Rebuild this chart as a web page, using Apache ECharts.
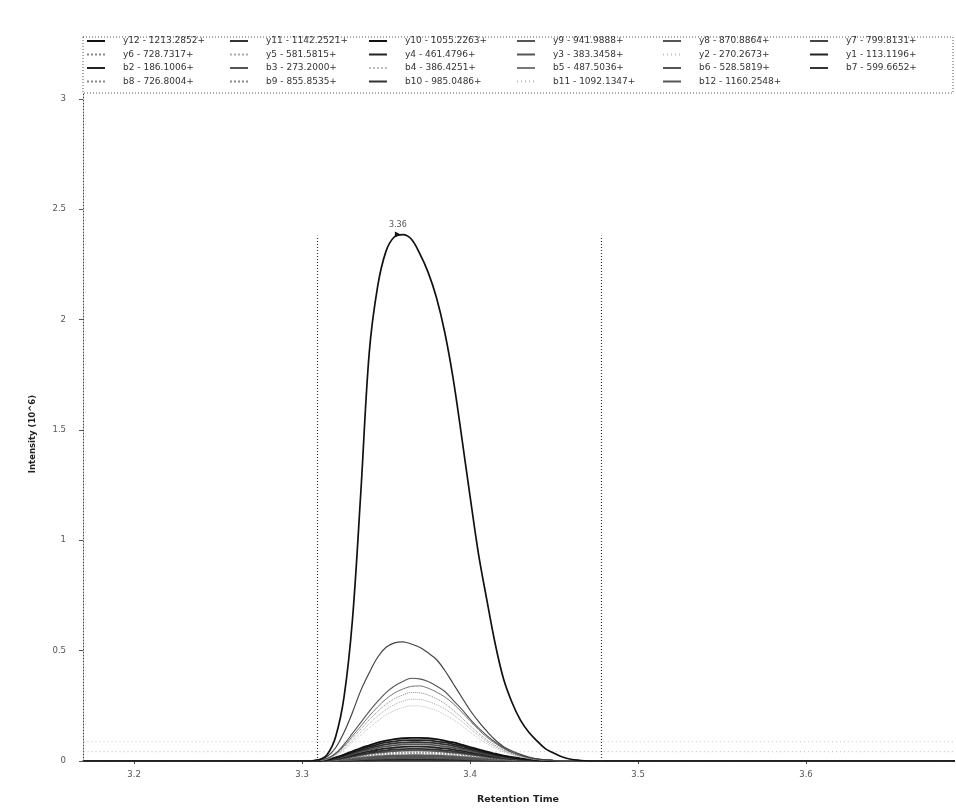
<!DOCTYPE html>
<html>
<head>
<meta charset="utf-8">
<script src="https://cdn.jsdelivr.net/npm/echarts@6/dist/echarts.min.js"></script>
<style>html,body{margin:0;padding:0;background:#fff}#c{width:956px;height:810px}</style>
</head>
<body>
<div id="c"></div>
<script>
// ---- data ----
const times = [3.17, 3.305, 3.31, 3.315, 3.32, 3.325, 3.33, 3.335, 3.34, 3.345, 3.35, 3.355, 3.36, 3.365, 3.37, 3.375, 3.38, 3.385, 3.39, 3.395, 3.4, 3.405, 3.41, 3.415, 3.42, 3.425, 3.43, 3.435, 3.44, 3.445, 3.45, 3.455, 3.46, 3.465, 3.47, 3.475, 3.48, 3.69];
const flatTimes = [3.17, 3.69];
const xTicks = [3.2, 3.3, 3.4, 3.5, 3.6];
const yTicks = [0, 0.5, 1, 1.5, 2, 2.5, 3];
const boundaryTimes = [3.309, 3.478];
const boundaryHeight = 2.38;

const y10 = [0, 0,.005,.03,.11,.29,.64,1.22,1.85,2.15,2.31, 2.375,2.385,2.365,2.30,2.215,2.10,1.94,1.73,1.47,1.20, .94,.73,.53,.37,.265,.185,.13,.09,.055,.035, .018,.008,.003,0,0,0, 0];
const y7  = [0, 0,.005,.02,.06,.13,.22,.32,.40,.47,.515, .535,.54,.53,.515,.49,.46,.41,.35,.29,.23, .18,.135,.095,.065,.045,.03,.018,.01,.005,.002, 0,0,0,0,0,0, 0];
const y9  = [0, 0,.003,.012,.035,.075,.125,.175,.225,.27,.31, .34,.36,.375,.372,.36,.34,.315,.275,.235,.19, .15,.115,.085,.06,.04,.026,.016,.009,.004,.002, .001,0,0,0,0,0, 0];
const b5  = [0, 0,.003,.011,.032,.068,.113,.158,.204,.245,.281, .308,.326,.338,.34,.33,.312,.29,.26,.222,.182, .142,.108,.08,.056,.038,.025,.015,.008,.004,.002, 0,0,0,0,0,0, 0];
const y6  = [0, 0,.002,.01,.03,.062,.104,.145,.187,.224,.257, .282,.299,.31,.309,.299,.282,.26,.23,.196,.16, .126,.096,.071,.05,.033,.022,.013,.007,.003,.002, 0,0,0,0,0,0, 0];
const y5  = [0, 0,.002,.009,.027,.056,.094,.131,.169,.203,.233, .256,.271,.28,.279,.27,.255,.236,.21,.18,.147, .116,.088,.065,.046,.031,.02,.012,.007,.003,.001, 0,0,0,0,0,0, 0];
const b4  = [0, 0,.002,.008,.024,.05,.084,.117,.151,.181,.208, .228,.242,.25,.249,.241,.228,.21,.187,.16,.131, .103,.079,.058,.041,.028,.018,.011,.006,.003,.001, 0,0,0,0,0,0, 0];
const y12 = [0, 0,.002,.006,.016,.029,.044,.059,.071,.083,.092, .099,.103,.105,.105,.103,.099,.092,.084,.074,.063, .053,.042,.033,.024,.017,.012,.007,.004,.002,.001, 0,0,0,0,0,0, 0];
const b2  = [0, 0,.002,.006,.014,.027,.04,.053,.065,.075,.084, .089,.093,.095,.095,.093,.089,.084,.076,.067,.057, .048,.038,.029,.022,.015,.01,.007,.004,.002,.001, 0,0,0,0,0,0, 0];
const y11 = [0, 0,.002,.005,.013,.024,.036,.048,.058,.067,.075, .08,.083,.085,.085,.083,.08,.075,.068,.06,.051, .043,.034,.026,.02,.014,.009,.006,.003,.002,.001, 0,0,0,0,0,0, 0];
const b3  = [0, 0,.002,.005,.011,.021,.032,.042,.051,.059,.066, .071,.074,.075,.075,.074,.071,.066,.06,.053,.045, .038,.03,.023,.017,.012,.008,.005,.003,.002,.001, 0,0,0,0,0,0, 0];
const y4  = [0, 0,.001,.004,.01,.018,.027,.036,.044,.051,.057, .061,.064,.065,.065,.064,.061,.057,.052,.046,.039, .033,.026,.02,.015,.01,.007,.005,.003,.001,.001, 0,0,0,0,0,0, 0];
const b10 = [0, 0,.001,.003,.008,.015,.023,.031,.037,.043,.048, .052,.054,.055,.055,.054,.052,.048,.044,.039,.033, .028,.022,.017,.013,.009,.006,.004,.002,.001,.001, 0,0,0,0,0,0, 0];
const y3  = [0, 0,.001,.003,.007,.013,.02,.027,.033,.038,.042, .045,.047,.048,.048,.047,.045,.042,.038,.034,.029, .024,.019,.015,.011,.008,.005,.003,.002,.001,0, 0,0,0,0,0,0, 0];
const b8  = [0, 0,.001,.002,.006,.011,.017,.022,.027,.032,.035, .038,.039,.04,.04,.039,.038,.035,.032,.028,.024, .02,.016,.012,.009,.006,.004,.003,.002,.001,0, 0,0,0,0,0,0, 0];
const b9  = [0, 0,.001,.002,.005,.009,.014,.018,.022,.026,.029, .031,.032,.033,.033,.032,.031,.029,.026,.023,.02, .017,.013,.01,.008,.005,.004,.002,.001,.001,0, 0,0,0,0,0,0, 0];
const y8  = [0, 0,.001,.002,.004,.007,.011,.015,.018,.021,.023, .024,.025,.026,.026,.025,.024,.023,.021,.018,.016, .013,.01,.008,.006,.004,.003,.002,.001,.001,0, 0,0,0,0,0,0, 0];
const b6  = [0, 0,0,.001,.003,.006,.008,.011,.014,.016,.018, .019,.02,.02,.02,.02,.019,.018,.016,.014,.012, .01,.008,.006,.005,.003,.002,.001,.001,0,0, 0,0,0,0,0,0, 0];
const b12 = [0, 0,0,.001,.002,.004,.006,.008,.01,.011,.012, .013,.014,.014,.014,.014,.013,.012,.011,.01,.008, .007,.006,.004,.003,.002,.002,.001,.001,0,0, 0,0,0,0,0,0, 0];
const y1  = [0, 0,0,.001,.001,.003,.004,.005,.006,.007,.008, .008,.009,.009,.009,.009,.008,.008,.007,.006,.005, .005,.004,.003,.002,.001,.001,.001,0,0,0, 0,0,0,0,0,0, 0];
const b7  = [0, 0,0,0,.001,.001,.002,.003,.003,.004,.004, .005,.005,.005,.005,.005,.005,.004,.004,.004,.003, .003,.002,.002,.001,.001,.001,0,0,0,0, 0,0,0,0,0,0, 0];
const y2  = [0.087, 0.087];
const b11 = [0.042, 0.042];

const names = {
  y12:'y12 - 1213.2852+', y11:'y11 - 1142.2521+', y10:'y10 - 1055.2263+', y9:'y9 - 941.9888+', y8:'y8 - 870.8864+', y7:'y7 - 799.8131+',
  y6:'y6 - 728.7317+', y5:'y5 - 581.5815+', y4:'y4 - 461.4796+', y3:'y3 - 383.3458+', y2:'y2 - 270.2673+', y1:'y1 - 113.1196+',
  b2:'b2 - 186.1006+', b3:'b3 - 273.2000+', b4:'b4 - 386.4251+', b5:'b5 - 487.5036+', b6:'b6 - 528.5819+', b7:'b7 - 599.6652+',
  b8:'b8 - 726.8004+', b9:'b9 - 855.8535+', b10:'b10 - 985.0486+', b11:'b11 - 1092.1347+', b12:'b12 - 1160.2548+'
};
const legendColumns = [
  ['y12','y6','b2','b8'],
  ['y11','y5','b3','b9'],
  ['y10','y4','b4','b10'],
  ['y9','y3','b5','b11'],
  ['y8','y2','b6','b12'],
  ['y7','y1','b7']
];

// ---- styles ----
const legendLeft = [86, 229, 368, 516, 662, 809];
const seriesDefs = [
  {k:'y2',  v:y2,  t:flatTimes, c:'#c0c0c0', w:1, d:[1,3]},
  {k:'b11', v:b11, t:flatTimes, c:'#b5b5b5', w:1, d:[1,3]},
  {k:'b7',  v:b7,  c:'#333', w:2},
  {k:'y1',  v:y1,  c:'#222', w:2},
  {k:'b12', v:b12, c:'#555', w:2},
  {k:'b6',  v:b6,  c:'#555', w:2},
  {k:'y8',  v:y8,  c:'#555', w:2},
  {k:'b9',  v:b9,  c:'#888', w:1.5, d:'dotted'},
  {k:'b8',  v:b8,  c:'#888', w:1.5, d:'dotted'},
  {k:'y3',  v:y3,  c:'#555', w:1.8},
  {k:'b10', v:b10, c:'#333', w:1.8},
  {k:'y4',  v:y4,  c:'#222', w:1.8},
  {k:'b3',  v:b3,  c:'#555', w:1.8},
  {k:'y11', v:y11, c:'#333', w:1.8},
  {k:'b2',  v:b2,  c:'#222', w:1.8},
  {k:'y12', v:y12, c:'#111', w:1.8},
  {k:'b4',  v:b4,  c:'#bdbdbd', w:1, d:'dotted'},
  {k:'y5',  v:y5,  c:'#aaa', w:1, d:'dotted'},
  {k:'y6',  v:y6,  c:'#888', w:1, d:'dotted'},
  {k:'b5',  v:b5,  c:'#777', w:1},
  {k:'y9',  v:y9,  c:'#555', w:1.1},
  {k:'y7',  v:y7,  c:'#444', w:1.2},
  {k:'y10', v:y10, c:'#111', w:1.7}
];

let peakIdx = 0;
y10.forEach((v,i)=>{ if (v > y10[peakIdx]) peakIdx = i; });

const series = seriesDefs.map(s => {
  const tt = s.t || times;
  const o = {
    name: names[s.k], type:'line', smooth:0.35, symbol:'none', animation:false,
    data: tt.map((t,i)=>[t, s.v[i]]),
    lineStyle:{color:s.c, width:s.w, type:s.d || 'solid'},
    itemStyle:{color:s.c}
  };
  if (s.k === 'y10') {
    o.markLine = {
      silent:true, symbol:'none', animation:false,
      lineStyle:{color:'#333', width:1.2, type:[1,2]},
      label:{show:false},
      data: boundaryTimes.map(b => [{coord:[b,0]},{coord:[b,boundaryHeight]}])
    };
    o.markPoint = {
      animation:false,
      data:[{coord:[times[peakIdx], y10[peakIdx]], value: times[peakIdx]}],
      symbol:'triangle', symbolSize:6, symbolRotate:-90, symbolOffset:[-5,0],
      itemStyle:{color:'#111'},
      label:{show:true, position:'top', distance:3, color:'#555', fontSize:8, fontFamily:'DejaVu Sans',
        formatter: p => Number(p.value).toFixed(2)}
    };
  }
  return o;
});

const legends = legendColumns.map((col, ci) => ({
  orient:'vertical', left:legendLeft[ci], top:36, padding:0,
  itemWidth:18, itemHeight:8, itemGap:3.5, selectedMode:false,
  itemStyle:{opacity:0},
  data: col.map(k => names[k]),
  textStyle:{fontSize:9, lineHeight:10, color:'#333', fontFamily:'DejaVu Sans', padding:[0,0,0,13]}
}));

const chart = echarts.init(document.getElementById('c'), null, {renderer:'canvas'});
chart.setOption({
  backgroundColor:'#fff',
  animation:false,
  grid:{left:83, right:3, top:37, bottom:49},
  legend: legends,
  graphic:[{
    type:'rect', z:3, silent:true,
    shape:{x:83, y:37, width:870, height:56},
    style:{fill:'#fff', stroke:'#555', lineWidth:1, lineDash:[1,2]}
  }],
  xAxis:{
    type:'value', min:3.1696, max:3.6875,
    name:'Retention Time', nameLocation:'middle', nameGap:34,
    nameTextStyle:{fontSize:9.5, fontWeight:'bold', color:'#222', fontFamily:'DejaVu Sans'},
    axisLine:{show:true, lineStyle:{color:'#222', width:1.5}},
    axisTick:{show:true, length:3, customValues:xTicks, lineStyle:{color:'#444'}},
    axisLabel:{customValues:xTicks, formatter:v=>v.toFixed(1), fontSize:8.5, color:'#555', margin:9, fontFamily:'DejaVu Sans'},
    splitLine:{show:false}
  },
  yAxis:{
    type:'value', min:0, max:3.28,
    name:'Intensity (10^6)', nameLocation:'middle', nameGap:46, nameRotate:90,
    nameTextStyle:{fontSize:8.5, fontWeight:'bold', color:'#222', fontFamily:'DejaVu Sans', padding:[0,70,0,0]},
    axisLine:{show:true, lineStyle:{color:'#444', width:1, type:[1,2]}},
    axisTick:{show:true, length:4, customValues:yTicks, lineStyle:{color:'#555'}},
    axisLabel:{customValues:yTicks, fontSize:8.5, color:'#555', margin:17, fontFamily:'DejaVu Sans'},
    splitLine:{show:false}
  },
  series: series
});
</script>
</body>
</html>
